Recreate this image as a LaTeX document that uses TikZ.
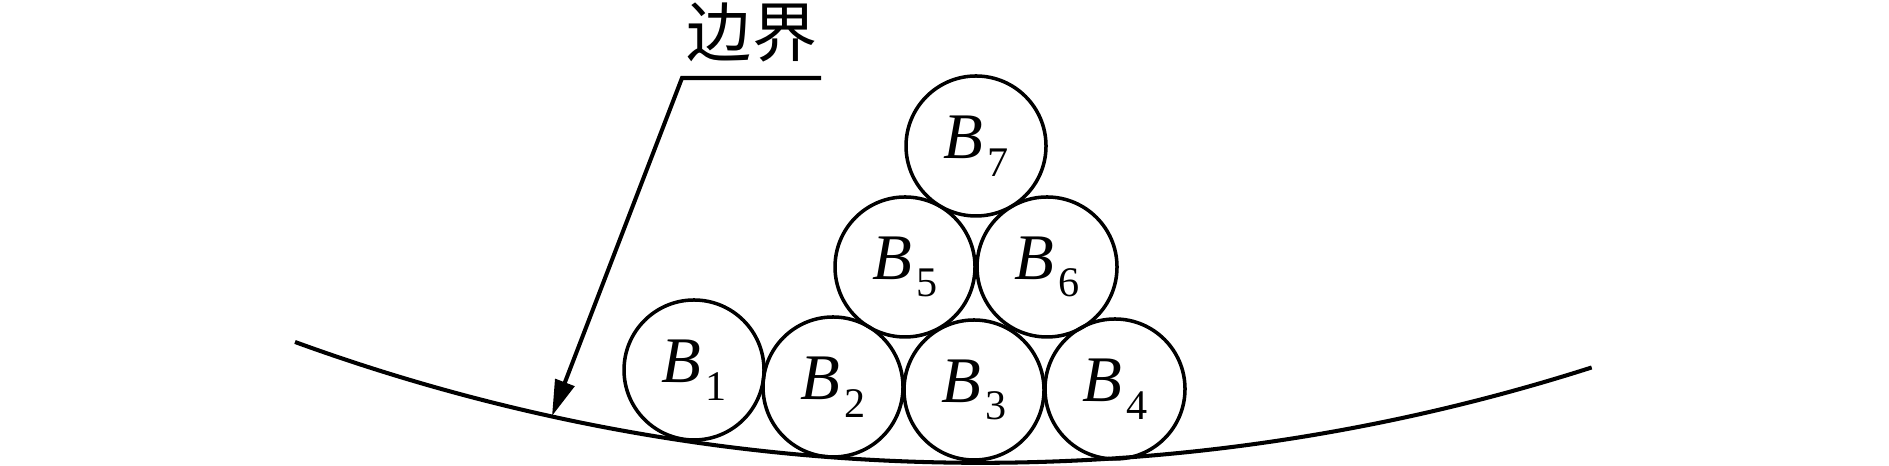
\documentclass[tikz,border=0pt]{standalone}
\usepackage{fontspec}
\setmainfont{Liberation Serif}
\newfontfamily\cjk{Noto Sans CJK SC}
\usepackage{tikz}
\usetikzlibrary{arrows.meta, positioning}
\newcommand{\ballname}[1]{\textit{B}\kern1pt\raisebox{-5pt}{\fontsize{12}{12}\selectfont #1}}
\tikzstyle{ball} = [circle, draw, line width=1pt, minimum size=1.4cm, inner sep=0pt, font=\fontsize{18.5}{18.5}\selectfont]
\tikzstyle{ground} = [line width=1.15pt]
\tikzstyle{arrow} = [line width=1.15pt, -{Triangle[length=3.6mm, width=2mm]}]

\begin{document}
\begin{tikzpicture}
    \useasboundingbox (0,0) rectangle (18.89,4.66);

    % Boundary
    \draw[ground] (2.95,1.24) arc[start angle=250, end angle=287.74, radius=20.05];

    % Bottom row
    \node[ball] (b1) at (6.94, 0.96) {\ballname{1}};
    \node[ball] (b2) at (8.33, 0.79) {\ballname{2}};
    \node[ball] (b3) at (9.74, 0.76) {\ballname{3}};
    \node[ball] (b4) at (11.15, 0.77) {\ballname{4}};

    % Upper rows
    \node[ball] (b5) at (9.05, 1.99) {\ballname{5}};
    \node[ball] (b6) at (10.47, 1.99) {\ballname{6}};
    \node[ball] (b7) at (9.76, 3.20) {\ballname{7}};

    % Leader with label
    \coordinate (tip) at (5.52, 0.50);
    \coordinate (knee) at (6.82, 3.88);
    \coordinate (tail) at (8.21, 3.88);
    \node[font=\cjk\fontsize{18.5}{18.5}\selectfont, inner sep=0pt] (label) at (7.52, 4.34) {边界};
    \draw[arrow] (tail) -- (knee) -- (tip);
\end{tikzpicture}
\end{document}
